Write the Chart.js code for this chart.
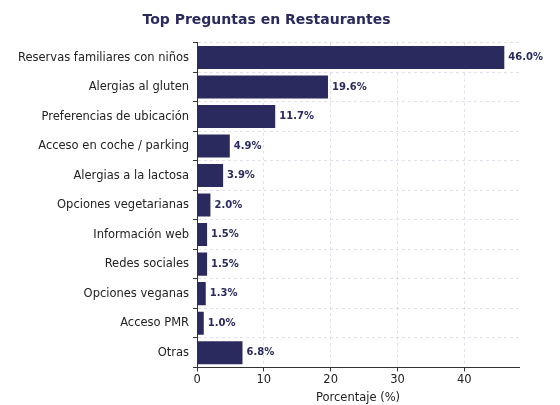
<!DOCTYPE html><html><head><meta charset="utf-8"><script src="https://cdn.jsdelivr.net/npm/chart.js"></script>
<style>body{margin:0;background:#fff}#w{width:560px;height:405px}</style></head><body><div id="w"><canvas id="c"></canvas></div>
<script>
const categories=["Reservas familiares con niños","Alergias al gluten","Preferencias de ubicación","Acceso en coche / parking","Alergias a la lactosa","Opciones vegetarianas","Información web","Redes sociales","Opciones veganas","Acceso PMR","Otras"];
const values=[46.0,19.6,11.7,4.9,3.9,2.0,1.5,1.5,1.3,1.0,6.8];
const xTicks=[0,10,20,30,40];
const navy="#2b2a5e";
const labelPlugin={id:"lbl",afterDatasetsDraw(ch){const ctx=ch.ctx;const m=ch.getDatasetMeta(0);ctx.save();ctx.font="bold 10px 'DejaVu Sans'";ctx.fillStyle=navy;ctx.textBaseline="middle";m.data.forEach((b,i)=>{ctx.fillText(values[i].toFixed(1)+"%",b.x+4,b.y);});ctx.restore();}};
new Chart(document.getElementById("c"),{type:"bar",data:{labels:categories,datasets:[{data:values,backgroundColor:navy,borderWidth:0,barPercentage:0.78,categoryPercentage:1}]},
options:{indexAxis:"y",responsive:true,maintainAspectRatio:false,animation:false,devicePixelRatio:1,
layout:{padding:{left:14,right:41,top:2,bottom:0}},
plugins:{legend:{display:false},tooltip:{enabled:false},title:{display:true,text:"Top Preguntas en Restaurantes",color:navy,font:{family:"DejaVu Sans",size:14,weight:"bold"},padding:{top:10,bottom:14}}},
scales:{x:{min:0,max:48.2,z:1,afterBuildTicks(s){s.ticks=xTicks.map(v=>({value:v}));},ticks:{color:"#222",font:{family:"DejaVu Sans",size:11.5},padding:2},grid:{color:"rgba(200,200,215,0.55)",drawTicks:true,tickColor:"#333",tickLength:4},border:{color:"#333",dash:[3,3]},title:{display:true,text:"Porcentaje (%)",color:"#222",font:{family:"DejaVu Sans",size:11.5},padding:{top:2,bottom:0}}},
y:{z:1,ticks:{color:"#222",font:{family:"DejaVu Sans",size:11.5},padding:4},grid:{color:"rgba(200,200,215,0.55)",tickColor:"#333",tickLength:4},border:{color:"#333",dash:[3,3]}}}},
plugins:[labelPlugin]});
</script></body></html>
